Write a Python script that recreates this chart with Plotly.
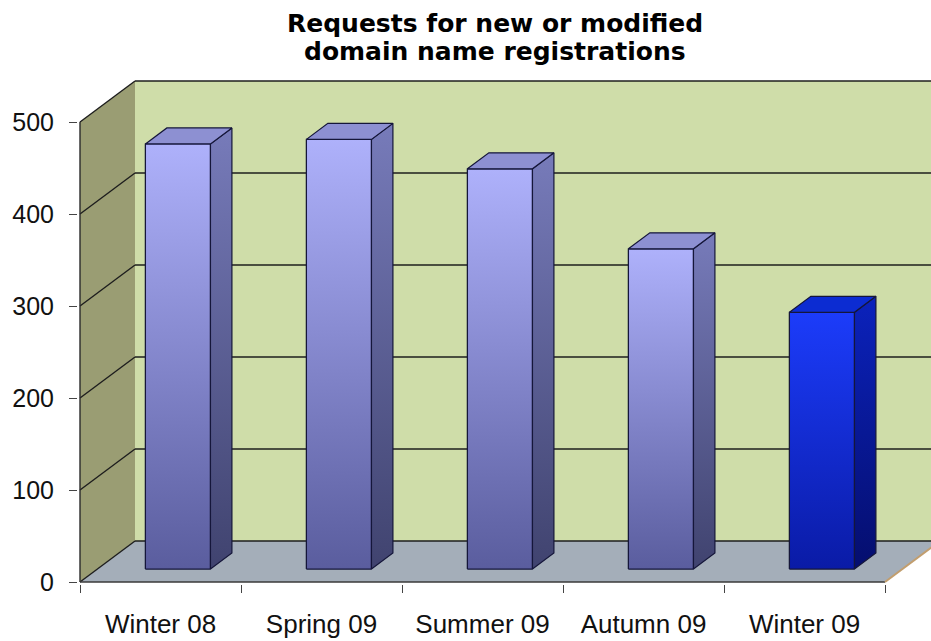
import plotly.graph_objects as go

# ---------------- data ----------------
categories = ["Winter 08", "Spring 09", "Summer 09", "Autumn 09", "Winter 09"]
values = [462, 467, 435, 348, 279]
y_tick_values = [0, 100, 200, 300, 400, 500]
y_tick_labels = ["0", "100", "200", "300", "400", "500"]
title_lines = ["Requests for new or modified", "domain name registrations"]

# ---------------- style / geometry ----------------
W, H = 931, 641
PX_PER_CAT = 161.0
PX_PER_UNIT = 0.92
ORIGIN_X_PX, ORIGIN_Y_PX = 80, 582
PLOT_L, PLOT_R, PLOT_T, PLOT_B = 78, 931, 78, 584
DEPTH_X = 55 / PX_PER_CAT          # wall depth in category units
DEPTH_Y = 41 / PX_PER_UNIT         # wall depth in value units
F1, F2 = 0.317, 0.707              # bar front / back depth fractions
BAR_W = 0.404
YMAX = max(y_tick_values)
NCAT = len(categories)

x_range = [(PLOT_L - ORIGIN_X_PX) / PX_PER_CAT, (PLOT_R - ORIGIN_X_PX) / PX_PER_CAT]
y_range = [(ORIGIN_Y_PX - PLOT_B) / PX_PER_UNIT, (ORIGIN_Y_PX - PLOT_T) / PX_PER_UNIT]

lav = dict(front_top="#AEB1FB", front_bot="#5A5D9E", side_top="#777BBA", side_bot="#40436F",
           top="#8D90D2", mid="#8083C8")
blue = dict(front_top="#1C3CFA", front_bot="#0A1BA6", side_top="#0B22BC", side_bot="#050E6E",
            top="#0C2CD2", mid="#1430E0")
bar_styles = [lav, lav, lav, lav, blue]
OUTLINE = "#15163A"

BACK_WALL = "#CFDDA9"
LEFT_WALL = "#9A9D73"
FLOOR = "#A4AEB9"
GRID = "#1E1E1E"

fig = go.Figure()

# ---------------- walls, floor, grid (shapes below traces) ----------------
shapes = []
far_x = x_range[1] + 1
def poly(pts, fill, line_color=None, width=0):
    path = "M " + " L ".join(f"{x},{y}" for x, y in pts) + " Z"
    return dict(type="path", path=path, xref="x", yref="y", fillcolor=fill,
                line=dict(color=line_color or fill, width=width), layer="below")

shapes.append(poly([(DEPTH_X, DEPTH_Y), (far_x, DEPTH_Y), (far_x, YMAX + DEPTH_Y),
                    (DEPTH_X, YMAX + DEPTH_Y)], BACK_WALL))
shapes.append(poly([(0, 0), (0, YMAX), (DEPTH_X, YMAX + DEPTH_Y), (DEPTH_X, DEPTH_Y)], LEFT_WALL))
shapes.append(poly([(0, 0), (NCAT, 0), (NCAT + DEPTH_X, DEPTH_Y), (DEPTH_X, DEPTH_Y)], FLOOR))

for v in y_tick_values:
    shapes.append(dict(type="line", xref="x", yref="y", x0=DEPTH_X, y0=v + DEPTH_Y,
                       x1=far_x, y1=v + DEPTH_Y, line=dict(color=GRID, width=1.4), layer="below"))
    shapes.append(dict(type="line", xref="x", yref="y", x0=0, y0=v,
                       x1=DEPTH_X, y1=v + DEPTH_Y, line=dict(color=GRID, width=1.4), layer="below"))
# axis line (front left edge) and floor front/right edges
shapes.append(dict(type="line", xref="x", yref="y", x0=0, y0=0, x1=0, y1=YMAX,
                   line=dict(color="#2A2A2A", width=1.4), layer="below"))
shapes.append(dict(type="line", xref="x", yref="y", x0=0, y0=0, x1=NCAT, y1=0,
                   line=dict(color="#3A3A3A", width=1.6), layer="below"))
shapes.append(dict(type="line", xref="x", yref="y", x0=NCAT, y0=0, x1=NCAT + DEPTH_X, y1=DEPTH_Y,
                   line=dict(color="#C29E6E", width=2), layer="below"))

# ---------------- bars ----------------
base = F1 * DEPTH_Y
ddx = (F2 - F1) * DEPTH_X
ddy = (F2 - F1) * DEPTH_Y
xc = [i + 0.5 + F1 * DEPTH_X for i in range(NCAT)]

fig.add_trace(go.Bar(x=xc, y=values, base=[base] * NCAT, width=BAR_W,
                     marker=dict(color=[s["mid"] for s in bar_styles],
                                 line=dict(color=OUTLINE, width=1)),
                     hoverinfo="skip", showlegend=False))

for i, v in enumerate(values):
    s = bar_styles[i]
    xl, xr = xc[i] - BAR_W / 2, xc[i] + BAR_W / 2
    top = base + v
    # front face gradient
    fig.add_trace(go.Scatter(
        x=[xl, xr, xr, xl, xl], y=[base, base, top, top, base], mode="lines", fill="toself",
        fillgradient=dict(type="vertical", colorscale=[[0, s["front_bot"]], [1, s["front_top"]]],
                          start=base, stop=top),
        line=dict(color=OUTLINE, width=1.2), hoverinfo="skip", showlegend=False))
    # side face
    fig.add_trace(go.Scatter(
        x=[xr, xr + ddx, xr + ddx, xr, xr], y=[base, base + ddy, top + ddy, top, base],
        mode="lines", fill="toself",
        fillgradient=dict(type="vertical", colorscale=[[0, s["side_bot"]], [1, s["side_top"]]],
                          start=base, stop=top + ddy),
        line=dict(color=OUTLINE, width=1.2), hoverinfo="skip", showlegend=False))
    # top face
    fig.add_trace(go.Scatter(
        x=[xl, xr, xr + ddx, xl + ddx, xl], y=[top, top, top + ddy, top + ddy, top],
        mode="lines", fill="toself", fillcolor=s["top"],
        line=dict(color=OUTLINE, width=1.2), hoverinfo="skip", showlegend=False))

# ---------------- title ----------------
plot_h = PLOT_B - PLOT_T
plot_w = PLOT_R - PLOT_L
title_center_px = 495
annotations = []
for text, ypx in zip(title_lines, [24, 51]):
    annotations.append(dict(text=f"<b>{text}</b>", xref="paper", yref="paper",
                            x=(title_center_px - PLOT_L) / plot_w, y=(PLOT_B - ypx) / plot_h,
                            xanchor="center", yanchor="middle", showarrow=False,
                            font=dict(family="DejaVu Sans", size=25, color="#000000")))

fig.update_layout(
    width=W, height=H,
    margin=dict(l=PLOT_L, r=W - PLOT_R, t=PLOT_T, b=H - PLOT_B, pad=0),
    paper_bgcolor="white", plot_bgcolor="white",
    shapes=shapes, annotations=annotations, showlegend=False,
    xaxis=dict(range=x_range, showgrid=False, zeroline=False, showline=False,
               tickmode="array", tickvals=[i + 0.5 for i in range(NCAT)], ticktext=categories,
               ticks="", tickfont=dict(family="Liberation Sans, Arial", size=26, color="#111111"),
               ticklabelstandoff=22,
               minor=dict(tickmode="array", tickvals=list(range(NCAT + 1)), ticks="outside",
                          ticklen=8, tickwidth=1, tickcolor="#444444", showgrid=False)),
    yaxis=dict(range=y_range, showgrid=False, zeroline=False, showline=False,
               tickmode="array", tickvals=y_tick_values, ticktext=y_tick_labels,
               ticks="outside", ticklen=8, tickwidth=1, tickcolor="#444444",
               tickfont=dict(family="Liberation Sans, Arial", size=25, color="#111111"),
               ticklabelstandoff=10),
)

fig.write_html("out.html", config={"displayModeBar": False},
               post_script="document.body.style.margin='0';document.body.style.overflow='hidden';")
